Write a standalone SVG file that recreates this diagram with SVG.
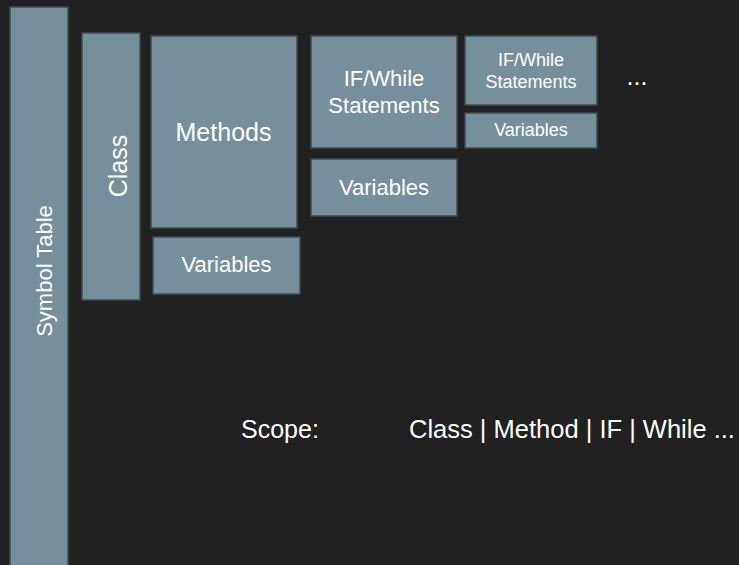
<svg xmlns="http://www.w3.org/2000/svg" width="739" height="565" viewBox="0 0 739 565">
<style>
.box{fill:#778f9b;stroke:#3f4c52;stroke-width:1.5}
text{font-family:"Liberation Sans",Arial,sans-serif;fill:#ffffff;text-anchor:middle}
</style>
<rect width="739" height="565" fill="#212121"/>
<g id="symbol-table"><rect class="box" x="10" y="7" width="58" height="565"/><text transform="translate(52,271) rotate(-90)" font-size="22">Symbol Table</text></g>
<g id="class"><rect class="box" x="82" y="33" width="58" height="267"/><text transform="translate(127,166) rotate(-90)" font-size="25">Class</text></g>
<g id="methods"><rect class="box" x="151" y="36" width="146" height="192"/><text x="223.5" y="141" font-size="25">Methods</text></g>
<g id="variables1"><rect class="box" x="153" y="237" width="147" height="57"/><text x="226.5" y="272" font-size="22">Variables</text></g>
<g id="ifwhile1"><rect class="box" x="311" y="36" width="146" height="112"/><text x="384" y="86" font-size="22">IF/While</text><text x="384" y="112.5" font-size="22">Statements</text></g>
<g id="variables2"><rect class="box" x="311" y="159" width="146" height="57"/><text x="384" y="195" font-size="22">Variables</text></g>
<g id="ifwhile2"><rect class="box" x="465" y="36" width="132" height="69"/><text x="531" y="66" font-size="18">IF/While</text><text x="531" y="88" font-size="18">Statements</text></g>
<g id="variables3"><rect class="box" x="465" y="113" width="132" height="35"/><text x="531" y="136" font-size="18">Variables</text></g>
<g id="ellipsis"><text x="637" y="84.5" font-size="25">...</text></g>
<g id="connectors"></g>
<text x="241" y="438" font-size="25" style="text-anchor:start">Scope:</text>
<text x="409" y="438" font-size="25.5" style="text-anchor:start">Class | Method | IF | While ...</text>
</svg>
